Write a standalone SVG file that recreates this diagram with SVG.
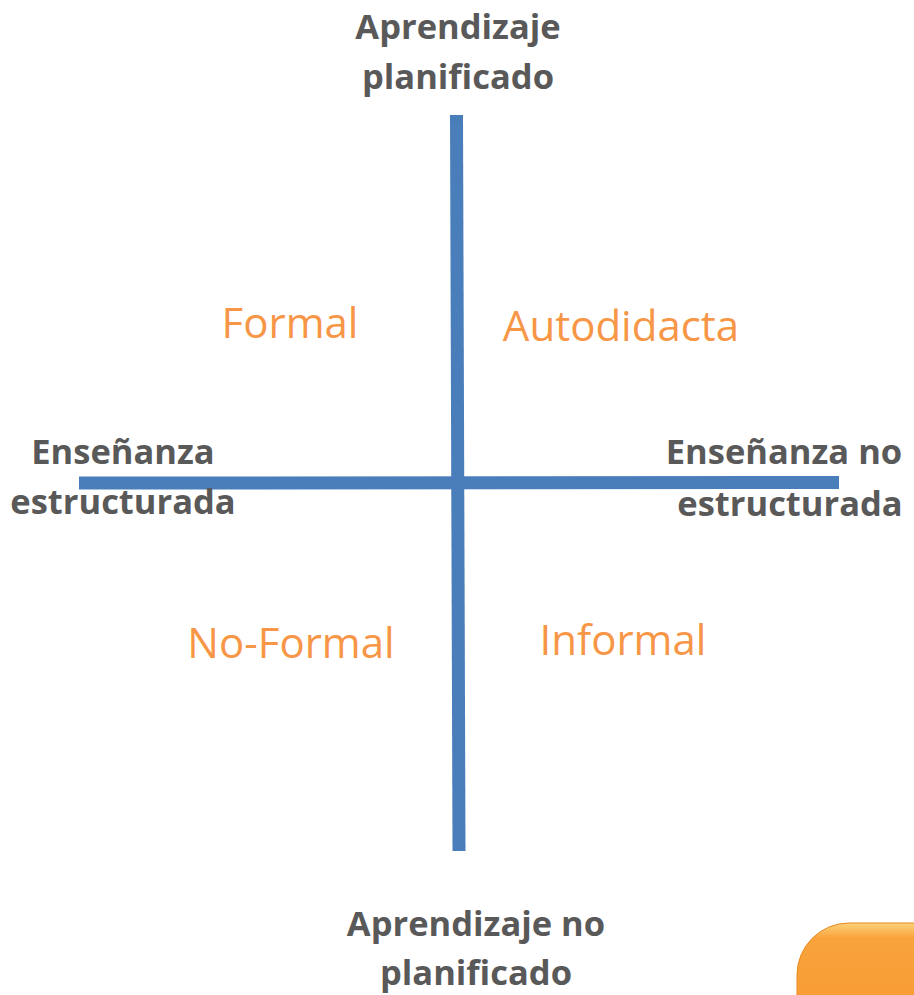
<svg xmlns="http://www.w3.org/2000/svg" width="914" height="995" viewBox="0 0 914 995">
<style>
.ax{font-family:"Open Sans","Liberation Sans",sans-serif;font-weight:bold;font-size:34.5px;fill:#595959;text-anchor:middle}
.q{font-family:"Open Sans","Liberation Sans",sans-serif;font-size:42px;fill:#F79646;text-anchor:middle}
</style>
<defs>
<linearGradient id="og" x1="0" y1="0" x2="0" y2="1">
<stop offset="0" stop-color="#FCD27A"/>
<stop offset="0.1" stop-color="#F9A33C"/>
<stop offset="1" stop-color="#F7962E"/>
</linearGradient>
</defs>
<rect width="914" height="995" fill="#ffffff"/>
<g id="connectors">
<line x1="456.5" y1="115" x2="459" y2="851" stroke="#4A7EBB" stroke-width="13"/>
<line x1="79" y1="483" x2="839" y2="482.5" stroke="#4A7EBB" stroke-width="13"/>
</g>
<g id="top-label"><text class="ax" x="458" y="39">Aprendizaje</text><text class="ax" x="458" y="89">planificado</text></g>
<g id="bottom-label"><text class="ax" x="476" y="936">Aprendizaje no</text><text class="ax" x="476" y="985">planificado</text></g>
<g id="left-label"><text class="ax" x="123" y="464">Enseñanza</text><text class="ax" x="123" y="514">estructurada</text></g>
<g id="right-label"><text class="ax" x="784" y="464">Enseñanza no</text><text class="ax" x="790" y="516">estructurada</text></g>
<g id="formal"><text class="q" x="290" y="338">Formal</text></g>
<g id="autodidacta"><text class="q" x="621" y="341">Autodidacta</text></g>
<g id="noformal"><text class="q" x="291" y="658">No-Formal</text></g>
<g id="informal"><text class="q" x="623" y="655">Informal</text></g>
<g id="button"><rect x="797" y="923" width="200" height="150" rx="52" fill="url(#og)" stroke="#E88A20" stroke-width="1"/></g>
</svg>
